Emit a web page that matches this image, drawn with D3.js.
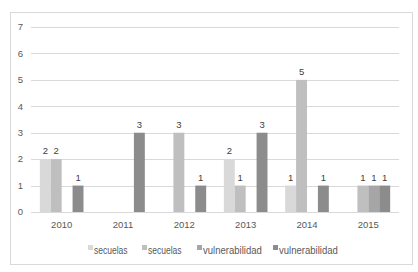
<!DOCTYPE html>
<html>
<head>
<meta charset="UTF-8">
<script src="https://d3js.org/d3.v7.min.js"></script>
<style>
  body { margin: 0; background: #fff; }
  text { font-family: "Liberation Sans", Arial, sans-serif; }
</style>
</head>
<body>
<script>
// data
var years = ["2010", "2011", "2012", "2013", "2014", "2015"];
var seriesNames = ["secuelas", "secuelas", "vulnerabilidad", "vulnerabilidad"];
var secuelas1 = [2, null, null, 2, 1, null];
var secuelas2 = [2, null, 3, 1, 5, 1];
var vulnerabilidad1 = [null, null, null, null, null, 1];
var vulnerabilidad2 = [1, 3, 1, 3, 1, 1];
var yTicks = [0, 1, 2, 3, 4, 5, 6, 7];
var colors = ["#d9d9d9", "#bfbfbf", "#a6a6a6", "#8c8c8c"];

var series = [secuelas1, secuelas2, vulnerabilidad1, vulnerabilidad2];

var width = 418, height = 272;

var svg = d3.select("body").append("svg")
    .attr("width", width)
    .attr("height", height);

// chart border
svg.append("rect")
    .attr("x", 10.5).attr("y", 12.5)
    .attr("width", 402).attr("height", 252)
    .attr("fill", "#fff")
    .attr("stroke", "#d9d9d9");

var x = d3.scaleBand().domain(years).range([31, 399]);
var xs = d3.scaleBand().domain(d3.range(series.length))
    .range([0, x.bandwidth()])
    .paddingOuter(0.81);
var y = d3.scaleLinear().domain([0, 7]).range([212, 27]);

// gridlines
svg.append("g").selectAll("line")
    .data(yTicks)
  .enter().append("line")
    .attr("x1", 31).attr("x2", 399)
    .attr("y1", function(d) { return Math.round(y(d)) + 0.5; })
    .attr("y2", function(d) { return Math.round(y(d)) + 0.5; })
    .attr("stroke", "#d9d9d9");

// y labels
svg.append("g").selectAll("text")
    .data(yTicks)
  .enter().append("text")
    .attr("x", 23)
    .attr("y", function(d) { return y(d); })
    .attr("dy", "0.35em")
    .attr("text-anchor", "end")
    .attr("font-size", "9.5px")
    .attr("fill", "#595959")
    .text(function(d) { return d; });

// bars
series.forEach(function(vals, si) {
  var g = svg.append("g");
  var pts = vals.map(function(v, i) { return { year: years[i], v: v }; })
      .filter(function(d) { return d.v != null; });
  g.selectAll("rect")
      .data(pts)
    .enter().append("rect")
      .attr("x", function(d) { return x(d.year) + xs(si); })
      .attr("width", xs.bandwidth())
      .attr("y", function(d) { return y(d.v); })
      .attr("height", function(d) { return y(0) - y(d.v); })
      .attr("fill", colors[si]);
  g.selectAll("text")
      .data(pts)
    .enter().append("text")
      .attr("x", function(d) { return x(d.year) + xs(si) + xs.bandwidth() / 2; })
      .attr("y", function(d) { return y(d.v) - 5; })
      .attr("text-anchor", "middle")
      .attr("font-size", "9.5px")
      .attr("fill", "#404040")
      .text(function(d) { return d.v; });
});

// x labels
svg.append("g").selectAll("text")
    .data(years)
  .enter().append("text")
    .attr("x", function(d) { return x(d) + x.bandwidth() / 2; })
    .attr("y", 228)
    .attr("text-anchor", "middle")
    .attr("font-size", "9.5px")
    .attr("fill", "#595959")
    .text(function(d) { return d; });

// legend (narrow font in the original, so squeeze the text a little)
var legendX = [88, 142, 197, 273];
var leg = svg.append("g").selectAll("g")
    .data(seriesNames)
  .enter().append("g")
    .attr("transform", function(d, i) { return "translate(" + legendX[i] + ",245)"; });
leg.append("rect")
    .attr("width", 5).attr("height", 5)
    .attr("fill", function(d, i) { return colors[i]; });
leg.append("text")
    .attr("x", 6).attr("y", 8.5)
    .attr("font-size", "10px")
    .attr("fill", "#595959")
    .attr("textLength", function(d) { return d.length * 4.2; })
    .attr("lengthAdjust", "spacingAndGlyphs")
    .text(function(d) { return d; });
</script>
</body>
</html>
